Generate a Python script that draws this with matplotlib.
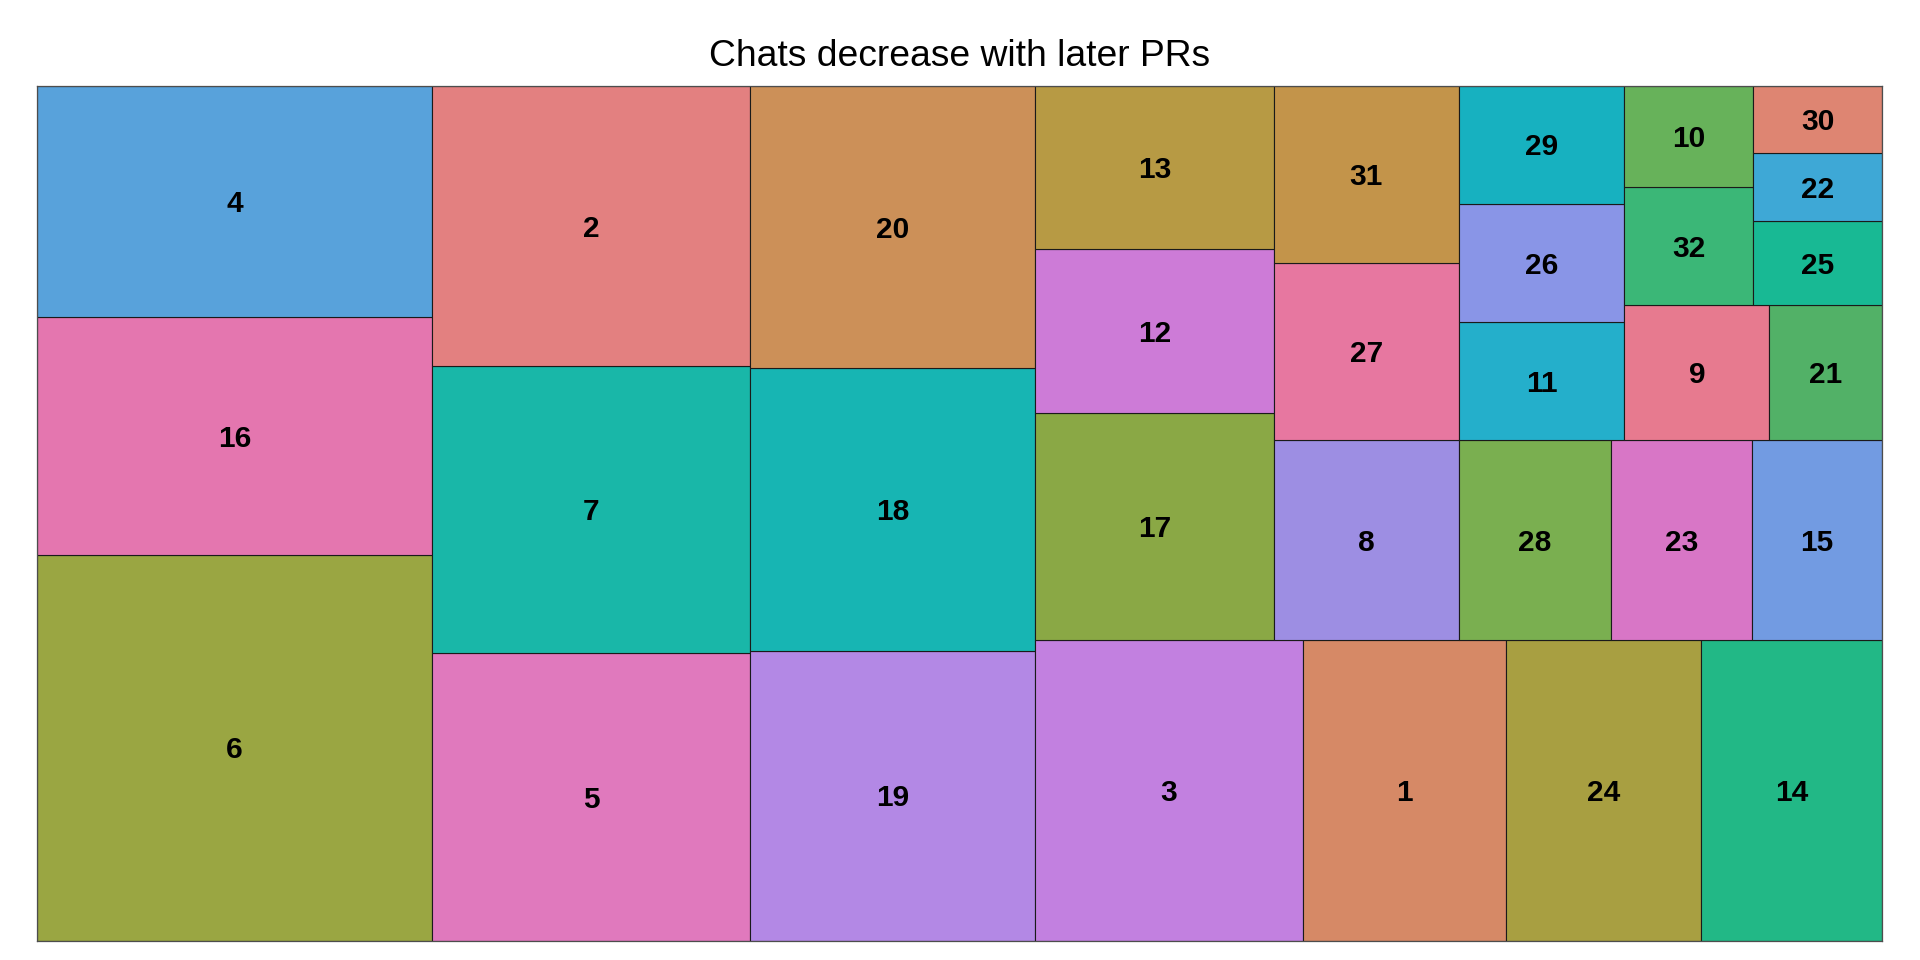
import matplotlib
matplotlib.use("Agg")
import matplotlib.pyplot as plt
from matplotlib.patches import Rectangle

# chats per PR
prs = [str(i) for i in range(1, 33)]
chats = [28, 41, 37, 42, 42, 70, 42, 17, 9, 6,
         9, 18, 18, 25, 12, 43, 25, 37, 38, 37,
         7, 4, 13, 27, 5, 9, 15, 14, 9, 4,
         15, 7]
colors = ["#D68966", "#E38080", "#C280E0", "#58A2DB", "#E079BD",
          "#9AA642", "#19B7A8", "#9D8EE3", "#E77A8F", "#67B25A",
          "#24AFCB", "#CD7BD7", "#B79A44", "#22B886", "#729BE2",
          "#E476AF", "#8AA845", "#17B5B3", "#B388E5", "#CC9058",
          "#52B167", "#3EA8D6", "#D876C6", "#A89F41", "#18B994",
          "#8995E7", "#E777A0", "#7AAF50", "#17B1C0", "#DE8572",
          "#C3944A", "#3BB777"]


def first_ratio(row, side):
    # aspect ratio of the first (largest) tile in the row
    s = sum(row)
    thick = s / side
    length = row[0] / thick
    return max(thick / length, length / thick)


def squarify(areas, x, y, w, h):
    rects = []
    items = list(areas)
    while items:
        side = min(w, h)
        row = [items[0]]
        i = 1
        while i < len(items) and first_ratio(row + [items[i]], side) <= first_ratio(row, side):
            row.append(items[i])
            i += 1
        items = items[i:]
        s = sum(row)
        if w >= h:
            # column on the left, stacked from the bottom
            cw = s / h
            yy = y
            for a in row:
                rects.append((x, yy, cw, a / cw))
                yy += a / cw
            x += cw
            w -= cw
        else:
            # row along the bottom, left to right
            rh = s / w
            xx = x
            for a in row:
                rects.append((xx, y, a / rh, rh))
                xx += a / rh
            y += rh
            h -= rh
    return rects


fig = plt.figure(figsize=(19.2, 9.6), dpi=100)
ax = fig.add_axes([0.01953, 0.0201, 0.96083, 0.89063])

# axes size in pixels, so tiles come out square-ish on screen
W = 1920 * 0.96083
H = 960 * 0.89063
order = sorted(range(len(prs)), key=lambda i: (-chats[i], prs[i]))
total = float(sum(chats))
areas = [chats[i] / total * W * H for i in order]
rects = squarify(areas, 0, 0, W, H)

lab_size = 21.5
half_digit = lab_size * 0.716 * 100 / 72 / 2

for i, (rx, ry, rw, rh) in zip(order, rects):
    ax.add_patch(Rectangle((rx, ry), rw, rh, facecolor=colors[i],
                           edgecolor="#1a1a1a", linewidth=0.8))
    ax.text(rx + rw / 2, ry + rh / 2 - half_digit, prs[i], ha="center",
            va="baseline", fontsize=lab_size, fontweight="bold",
            family="Liberation Sans", color="black")

ax.set_xlim(0, W)
ax.set_ylim(0, H)
ax.set_xticks([])
ax.set_yticks([])
for sp in ax.spines.values():
    sp.set_color("#4d4d4d")
    sp.set_linewidth(0.9)

fig.text(0.5, 1 - 65.7 / 960, "Chats decrease with later PRs", ha="center",
         va="baseline", fontsize=26.8, family="Liberation Sans")

fig.savefig("out.png", dpi=100, facecolor="white")
